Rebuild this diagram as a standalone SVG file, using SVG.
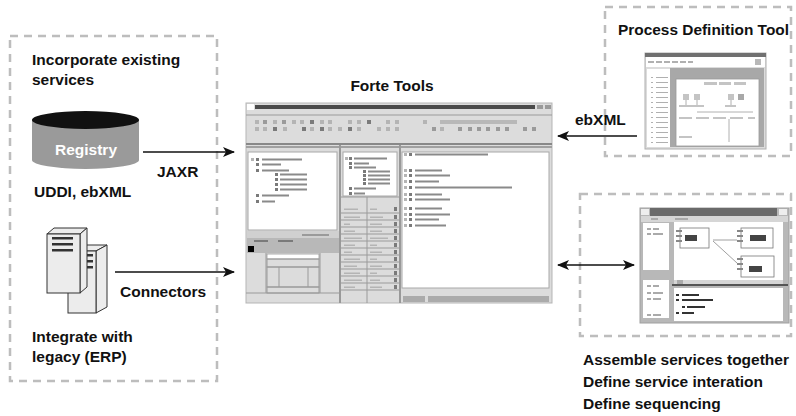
<svg xmlns="http://www.w3.org/2000/svg" width="796" height="416" viewBox="0 0 796 416">
  <defs>
    <marker id="arrow" viewBox="0 0 12 10" refX="11" refY="5" markerWidth="12" markerHeight="10" markerUnits="userSpaceOnUse" orient="auto-start-reverse">
      <path d="M0,0 L12,5 L0,10 L3,5 z" fill="#111"/>
    </marker>
    <style>
      .lbl { font-family: "Liberation Sans", Arial, sans-serif; font-weight: bold; font-size: 15.5px; fill: #111; }
      .dash { fill: none; stroke: #bdbdbd; stroke-width: 2.5; stroke-dasharray: 8 6; }
      .conn { fill: none; stroke: #111; stroke-width: 1.5; }
      .win { fill: #dcdcdc; stroke: #b5b5b5; stroke-width: 1; }
      .pane { fill: #fff; stroke: #a8a8a8; stroke-width: 1; }
      .gl { fill: none; stroke: #9a9a9a; stroke-width: 1; }
      .bar { fill: #8a8a8a; }
      .lt { fill: #b4b4b4; }
      .md { fill: #9a9a9a; }
      .dk { fill: #7a7a7a; }
      .blk { fill: #333; }
      .box { fill: #ececec; stroke: #333; stroke-width: 1; }
    </style>
  </defs>

  <!-- grouping frames -->
  <g id="frames">
    <rect class="dash" x="10" y="36" width="207" height="345"/>
    <rect class="dash" x="605" y="7" width="186" height="149"/>
    <rect class="dash" x="580" y="194" width="211" height="142"/>
  </g>

  <!-- left: existing services -->
  <g id="incorporate">
    <text class="lbl" x="32" y="65">Incorporate existing</text>
    <text class="lbl" x="32" y="85">services</text>
  </g>

  <g id="registry">
    <path d="M32,120 L32,160 A53.5,9 0 0 0 139,160 L139,120 Z" fill="#9a9a9a"/>
    <ellipse cx="85.5" cy="120" rx="53.5" ry="9" fill="#111"/>
    <text x="86" y="155" text-anchor="middle" style="font-family:'Liberation Sans',Arial,sans-serif;font-weight:bold;font-size:15.5px;fill:#fff">Registry</text>
    <text class="lbl" x="34" y="197">UDDI, ebXML</text>
  </g>

  <g id="legacy">
    <!-- rear tower -->
    <polygon class="box" points="68,251 79,245 107,245 96,251"/>
    <polygon class="box" points="96,251 107,245 107,307 96,313"/>
    <rect class="box" x="68" y="251" width="28" height="62"/>
    <rect class="blk" x="75" y="254" width="18" height="2.5"/>
    <rect class="blk" x="75" y="260" width="18" height="2.5"/>
    <rect class="blk" x="75" y="266" width="18" height="2.5"/>
    <!-- front tower -->
    <polygon class="box" points="47,234 54,228 87,228 80,234"/>
    <polygon class="box" points="80,234 87,228 87,287 80,293"/>
    <rect class="box" x="47" y="234" width="33" height="59"/>
    <rect class="blk" x="52" y="237" width="21" height="2.5"/>
    <rect class="blk" x="52" y="243" width="21" height="2.5"/>
    <rect class="blk" x="52" y="249" width="21" height="2.5"/>
    <text class="lbl" x="32" y="342">Integrate with</text>
    <text class="lbl" x="32" y="362">legacy (ERP)</text>
  </g>

  <!-- centre: Forte Tools IDE -->
  <g id="forte-tools">
    <text class="lbl" x="392" y="91" text-anchor="middle">Forte Tools</text>
    <rect class="win" x="246" y="103" width="306" height="200"/>
    <!-- title bar -->
    <rect x="247" y="104" width="7" height="6" fill="#fff"/>
    <rect x="255" y="105" width="280" height="4" fill="#4a4a4a"/>
    <rect class="md" x="537" y="105" width="6" height="4"/>
    <rect class="md" x="545" y="105" width="6" height="4"/>
    <line class="gl" x1="246" y1="115" x2="552" y2="115"/>
    <!-- toolbar row 1 -->
    <g>
      <rect class="lt" x="255" y="120" width="4" height="4"/>
      <rect class="md" x="263" y="120" width="4" height="4"/>
      <rect class="lt" x="273" y="120" width="4" height="4"/>
      <rect class="md" x="282" y="120" width="4" height="4"/>
      <rect class="lt" x="292" y="120" width="4" height="4"/>
      <rect class="lt" x="300" y="120" width="4" height="4"/>
      <rect class="dk" x="310" y="120" width="4" height="4"/>
      <rect class="lt" x="320" y="120" width="4" height="4"/>
      <rect class="lt" x="328" y="120" width="4" height="4"/>
      <rect class="lt" x="348" y="120" width="4" height="4"/>
      <rect class="lt" x="357" y="120" width="4" height="4"/>
      <rect class="dk" x="367" y="120" width="4" height="4"/>
      <rect class="lt" x="386" y="120" width="4" height="4"/>
      <rect class="lt" x="395" y="120" width="4" height="4"/>
      <rect class="lt" x="423" y="120" width="4" height="4"/>
      <rect x="440" y="120" width="77" height="4" fill="#b8b8b8"/>
    </g>
    <!-- toolbar row 2 -->
    <g>
      <rect class="lt" x="255" y="127" width="4" height="4"/>
      <rect class="lt" x="263" y="127" width="4" height="4"/>
      <rect class="dk" x="273" y="127" width="4" height="4"/>
      <rect class="lt" x="283" y="127" width="4" height="4"/>
      <rect class="dk" x="302" y="127" width="4" height="4"/>
      <rect class="lt" x="310" y="127" width="4" height="4"/>
      <rect class="dk" x="320" y="127" width="4" height="4"/>
      <rect class="lt" x="328" y="127" width="4" height="4"/>
      <rect class="lt" x="338" y="127" width="4" height="4"/>
      <rect class="dk" x="348" y="127" width="4" height="4"/>
      <rect class="lt" x="357" y="127" width="4" height="4"/>
      <rect class="lt" x="377" y="127" width="4" height="4"/>
      <rect class="lt" x="386" y="127" width="4" height="4"/>
      <rect class="lt" x="395" y="127" width="4" height="4"/>
      <rect class="md" x="432" y="127" width="4" height="4"/>
      <rect class="lt" x="440" y="127" width="4" height="4"/>
      <rect class="md" x="458" y="127" width="4" height="4"/>
      <rect class="md" x="468" y="127" width="4" height="4"/>
      <rect class="md" x="477" y="127" width="4" height="4"/>
      <rect class="md" x="486" y="127" width="4" height="4"/>
      <rect class="md" x="496" y="127" width="4" height="4"/>
      <rect class="md" x="505" y="127" width="4" height="4"/>
      <rect class="md" x="523" y="127" width="4" height="4"/>
      <rect class="md" x="532" y="127" width="4" height="4"/>
    </g>
    <!-- pane splitters -->
    <rect x="246" y="143" width="306" height="2" fill="#888"/>
    <rect x="246" y="146" width="306" height="2" fill="#a0a0a0"/>
    <rect x="339" y="145" width="2" height="158" fill="#999"/>
    <rect x="399" y="145" width="2" height="158" fill="#999"/>

    <!-- left pane: tree -->
    <rect class="pane" x="248" y="152" width="89" height="78"/>
    <g>
      <rect class="lt" x="251" y="158" width="3" height="3"/><rect class="dk" x="256" y="158" width="3" height="3"/><rect class="bar" x="262" y="158.5" width="40" height="2"/>
      <rect class="dk" x="256" y="163" width="3" height="3"/><rect class="bar" x="262" y="163.5" width="19" height="2"/>
      <rect class="dk" x="256" y="169" width="3" height="3"/><rect class="bar" x="262" y="169.5" width="27" height="2"/>
      <rect class="dk" x="275" y="173" width="3" height="3"/><rect class="bar" x="280" y="173.5" width="27" height="2"/>
      <rect class="dk" x="275" y="178" width="3" height="3"/><rect class="bar" x="280" y="178.5" width="27" height="2"/>
      <rect class="dk" x="275" y="183" width="3" height="3"/><rect class="bar" x="280" y="183.5" width="27" height="2"/>
      <rect class="dk" x="275" y="188" width="3" height="3"/><rect class="bar" x="280" y="188.5" width="27" height="2"/>
      <rect class="dk" x="256" y="194" width="3" height="3"/><rect class="bar" x="262" y="194.5" width="27" height="2"/>
      <rect class="dk" x="256" y="200" width="3" height="3"/><rect class="bar" x="262" y="200.5" width="13" height="2"/>
    </g>
    <rect x="247" y="231" width="92" height="7" fill="#d0d0d0"/>
    <rect class="md" x="302" y="234" width="27" height="2"/>
    <rect x="247" y="238" width="92" height="15" fill="#b8b8b8"/>
    <rect class="dk" x="254" y="240" width="14" height="2"/>
    <rect class="dk" x="278" y="240" width="15" height="2"/>
    <rect x="248" y="246" width="6" height="6" fill="#000"/>
    <!-- left pane: property form -->
    <line class="gl" x1="266" y1="253" x2="266" y2="293"/>
    <line class="gl" x1="320" y1="253" x2="320" y2="293"/>
    <line class="gl" x1="246" y1="293" x2="339" y2="293"/>
    <rect x="267" y="254" width="52" height="5" fill="#fff" stroke="#9a9a9a" stroke-width="0.8"/>
    <rect class="gl" x="267" y="259" width="52" height="8"/>
    <rect class="gl" x="267" y="267" width="52" height="20"/>
    <line class="gl" x1="279" y1="267" x2="279" y2="287"/>
    <line class="gl" x1="308" y1="267" x2="308" y2="287"/>
    <rect class="gl" x="267" y="287" width="52" height="6"/>

    <!-- middle pane: tree -->
    <rect class="pane" x="343" y="152" width="54" height="44"/>
    <g>
      <rect class="lt" x="345" y="157" width="3" height="3"/><rect class="dk" x="349" y="157" width="3" height="3"/><rect class="bar" x="354" y="157.5" width="33" height="2"/>
      <rect class="dk" x="349" y="162" width="3" height="3"/><rect class="bar" x="354" y="162.5" width="15" height="2"/>
      <rect class="dk" x="349" y="166" width="3" height="3"/><rect class="bar" x="354" y="166.5" width="22" height="2"/>
      <rect class="dk" x="363" y="170" width="3" height="3"/><rect class="bar" x="368" y="170.5" width="22" height="2"/>
      <rect class="dk" x="363" y="174" width="3" height="3"/><rect class="bar" x="368" y="174.5" width="22" height="2"/>
      <rect class="dk" x="363" y="178" width="3" height="3"/><rect class="bar" x="368" y="178.5" width="22" height="2"/>
      <rect class="dk" x="363" y="182" width="3" height="3"/><rect class="bar" x="368" y="182.5" width="22" height="2"/>
      <rect class="dk" x="349" y="187" width="3" height="3"/><rect class="bar" x="354" y="187.5" width="22" height="2"/>
      <rect class="dk" x="349" y="192" width="3" height="3"/><rect class="bar" x="354" y="192.5" width="11" height="2"/>
    </g>
    <!-- middle pane: property table -->
    <line class="gl" x1="341" y1="197" x2="399" y2="197"/>
    <line class="gl" x1="367" y1="197" x2="367" y2="303"/>
    <g stroke="#9a9a9a" stroke-width="1">
      <line x1="341" y1="213" x2="399" y2="213"/>
      <line x1="341" y1="220" x2="399" y2="220"/>
      <line x1="341" y1="227" x2="399" y2="227"/>
      <line x1="341" y1="234" x2="399" y2="234"/>
      <line x1="341" y1="241" x2="399" y2="241"/>
      <line x1="341" y1="248" x2="399" y2="248"/>
      <line x1="341" y1="255" x2="399" y2="255"/>
      <line x1="341" y1="262" x2="399" y2="262"/>
      <line x1="341" y1="269" x2="399" y2="269"/>
      <line x1="341" y1="276" x2="399" y2="276"/>
      <line x1="341" y1="283" x2="399" y2="283"/>
      <line x1="341" y1="290" x2="399" y2="290"/>
    </g>
    <g>
      <rect class="lt" x="344" y="208.5" width="14" height="1.5"/><rect class="lt" x="370" y="208.5" width="7" height="1.5"/><rect class="dk" x="394" y="207" width="3" height="4"/>
      <rect class="lt" x="344" y="216.5" width="16" height="1.5"/><rect class="lt" x="370" y="216.5" width="13" height="1.5"/><rect class="dk" x="394" y="215" width="3" height="4"/>
      <rect class="lt" x="344" y="223.5" width="6" height="1.5"/><rect class="lt" x="370" y="223.5" width="12" height="1.5"/><rect class="dk" x="394" y="222" width="3" height="4"/>
      <rect class="lt" x="344" y="230.5" width="11" height="1.5"/><rect class="lt" x="370" y="230.5" width="12" height="1.5"/><rect class="dk" x="394" y="229" width="3" height="4"/>
      <rect class="lt" x="344" y="237.5" width="18" height="1.5"/><rect class="lt" x="370" y="237.5" width="18" height="1.5"/><rect class="dk" x="394" y="236" width="3" height="4"/>
      <rect class="lt" x="344" y="244.5" width="11" height="1.5"/><rect class="lt" x="370" y="244.5" width="7" height="1.5"/><rect class="dk" x="394" y="243" width="3" height="4"/>
      <rect class="lt" x="344" y="251.5" width="8" height="1.5"/><rect class="lt" x="370" y="251.5" width="12" height="1.5"/><rect class="dk" x="394" y="250" width="3" height="4"/>
      <rect class="lt" x="344" y="258.5" width="16" height="1.5"/><rect class="lt" x="370" y="258.5" width="7" height="1.5"/><rect class="dk" x="394" y="257" width="3" height="4"/>
      <rect class="lt" x="344" y="265.5" width="13" height="1.5"/><rect class="lt" x="370" y="265.5" width="12" height="1.5"/><rect class="dk" x="394" y="264" width="3" height="4"/>
      <rect class="lt" x="344" y="272.5" width="16" height="1.5"/><rect class="lt" x="370" y="272.5" width="7" height="1.5"/><rect class="dk" x="394" y="271" width="3" height="4"/>
      <rect class="lt" x="344" y="279.5" width="18" height="1.5"/><rect class="lt" x="370" y="279.5" width="10" height="1.5"/><rect class="dk" x="394" y="278" width="3" height="4"/>
      <rect class="lt" x="344" y="286.5" width="11" height="1.5"/><rect class="lt" x="370" y="286.5" width="12" height="1.5"/><rect class="dk" x="394" y="285" width="3" height="4"/>
    </g>

    <!-- right pane: editor -->
    <rect class="pane" x="402" y="152" width="147" height="136"/>
    <g>
      <rect class="lt" x="404" y="153" width="3" height="3"/><rect class="dk" x="409" y="153" width="3" height="3"/><rect class="bar" x="415" y="153.5" width="73" height="2"/>
      <rect class="lt" x="404" y="169" width="3" height="3"/><rect class="dk" x="409" y="169" width="3" height="3"/><rect class="bar" x="415" y="169.5" width="27" height="2"/>
      <rect class="lt" x="404" y="174" width="3" height="3"/><rect class="dk" x="409" y="174" width="3" height="3"/><rect class="bar" x="415" y="174.5" width="35" height="2"/>
      <rect class="lt" x="404" y="180" width="3" height="3"/><rect class="dk" x="409" y="180" width="3" height="3"/><rect class="bar" x="415" y="180.5" width="24" height="2"/>
      <rect class="lt" x="404" y="186" width="3" height="3"/><rect class="dk" x="409" y="186" width="3" height="3"/><rect class="bar" x="415" y="186.5" width="97" height="2"/>
      <rect class="lt" x="404" y="193" width="3" height="3"/><rect class="dk" x="409" y="193" width="3" height="3"/><rect class="bar" x="415" y="193.5" width="27" height="2"/>
      <rect class="lt" x="404" y="198" width="3" height="3"/><rect class="dk" x="409" y="198" width="3" height="3"/><rect class="bar" x="415" y="198.5" width="35" height="2"/>
      <rect class="lt" x="404" y="207" width="3" height="3"/><rect class="dk" x="409" y="207" width="3" height="3"/><rect class="bar" x="415" y="207.5" width="27" height="2"/>
      <rect class="lt" x="404" y="213" width="3" height="3"/><rect class="dk" x="409" y="213" width="3" height="3"/><rect class="bar" x="415" y="213.5" width="35" height="2"/>
      <rect class="lt" x="404" y="218" width="3" height="3"/><rect class="dk" x="409" y="218" width="3" height="3"/><rect class="bar" x="415" y="218.5" width="24" height="2"/>
      <rect class="lt" x="404" y="224" width="3" height="3"/><rect class="dk" x="409" y="224" width="3" height="3"/><rect class="bar" x="415" y="224.5" width="31" height="2"/>
    </g>
    <rect x="403" y="296" width="22" height="6" fill="#ababab"/>
    <rect x="428" y="296" width="121" height="6" fill="#ababab"/>
  </g>

  <!-- top right: process definition tool -->
  <g id="process-definition-tool">
    <text class="lbl" x="618" y="35" textLength="171" lengthAdjust="spacingAndGlyphs">Process Definition Tool</text>
    <rect x="645" y="53" width="121" height="96" fill="#dcdcdc" stroke="#b0b0b0" stroke-width="1"/>
    <rect x="645" y="53" width="121" height="4" fill="#707070"/>
    <rect x="646" y="57" width="119" height="10" fill="#fff"/>
    <g fill="#b0b0b0">
      <rect x="648" y="61" width="6" height="2"/><rect x="656" y="61" width="6" height="2"/><rect x="664" y="61" width="6" height="2"/>
      <rect x="672" y="61" width="6" height="2"/><rect x="680" y="61" width="6" height="2"/><rect x="688" y="61" width="5" height="2"/>
    </g>
    <rect x="755" y="59" width="6" height="6" fill="#b8b8b8"/>
    <rect x="647" y="69" width="23" height="78" fill="#fff"/>
    <g fill="#b0b0b0">
      <rect x="651" y="77" width="2" height="1"/><rect x="656" y="77" width="12" height="1"/>
      <rect x="651" y="82" width="2" height="1"/><rect x="656" y="82" width="12" height="1"/>
      <rect x="651" y="87" width="2" height="1"/><rect x="656" y="87" width="12" height="1"/>
      <rect x="651" y="92" width="2" height="1"/><rect x="656" y="92" width="12" height="1"/>
      <rect x="651" y="97" width="2" height="1"/><rect x="656" y="97" width="12" height="1"/>
      <rect x="651" y="102" width="2" height="1"/><rect x="656" y="102" width="12" height="1"/>
      <rect x="651" y="107" width="2" height="1"/><rect x="656" y="107" width="12" height="1"/>
      <rect x="651" y="112" width="2" height="1"/><rect x="656" y="112" width="12" height="1"/>
      <rect x="651" y="117" width="2" height="1"/><rect x="656" y="117" width="12" height="1"/>
      <rect x="651" y="122" width="2" height="1"/><rect x="656" y="122" width="12" height="1"/>
      <rect x="651" y="127" width="2" height="1"/><rect x="656" y="127" width="12" height="1"/>
      <rect x="651" y="132" width="2" height="1"/><rect x="656" y="132" width="12" height="1"/>
      <rect x="651" y="137" width="2" height="1"/><rect x="656" y="137" width="12" height="1"/>
      <rect x="651" y="142" width="2" height="1"/><rect x="656" y="142" width="12" height="1"/>
    </g>
    <rect x="670" y="68" width="94" height="79" fill="#a8a8a8"/>
    <rect x="676" y="79" width="83" height="67" fill="#fff" stroke="#999" stroke-width="0.8"/>
    <g fill="#c4c4c4">
      <rect x="704" y="82" width="13" height="3"/><rect x="719" y="82" width="12" height="3"/><rect x="734" y="82" width="12" height="3"/>
      <rect x="683" y="94" width="6" height="6"/><rect x="694" y="94" width="6" height="6"/>
      <rect x="728" y="94" width="6" height="6"/>
      <rect x="679" y="105" width="25" height="2"/><rect x="725" y="105" width="11" height="2"/>
      <rect x="679" y="117" width="13" height="2"/><rect x="696" y="117" width="13" height="2"/><rect x="713" y="117" width="13" height="2"/>
      <rect x="730" y="117" width="13" height="2"/><rect x="748" y="117" width="7" height="2"/>
      <rect x="679" y="136" width="13" height="2"/>
    </g>
    <rect x="738" y="94" width="6" height="6" fill="#a8a8a8"/>
    <g stroke="#b0b0b0" stroke-width="1" fill="none">
      <line x1="686" y1="100" x2="686" y2="105"/><line x1="697" y1="100" x2="697" y2="105"/>
      <line x1="731" y1="100" x2="731" y2="105"/>
      <line x1="697" y1="112" x2="753" y2="112"/>
      <line x1="729" y1="119" x2="729" y2="142"/>
    </g>
  </g>

  <!-- bottom right: service assembly -->
  <g id="service-assembly">
    <rect x="640" y="208" width="149" height="115" fill="#b8b8b8" stroke="#a0a0a0" stroke-width="1"/>
    <rect x="650" y="208" width="127" height="8" fill="#6a6a6a"/>
    <rect x="641" y="209" width="8" height="6" fill="#eee"/>
    <rect x="779" y="209" width="8" height="6" fill="#eee"/>
    <rect x="641" y="216" width="147" height="6" fill="#d6d6d6"/>
    <rect x="651" y="218" width="7" height="2" fill="#aaa"/>
    <rect x="675" y="218" width="13" height="2" fill="#aaa"/>
    <rect x="643" y="223" width="26" height="47" fill="#fff"/>
    <rect x="643" y="280" width="26" height="38" fill="#fff"/>
    <g fill="#aaa">
      <rect x="647" y="228" width="4" height="2"/><rect x="653" y="228" width="6" height="2"/>
      <rect x="647" y="233" width="4" height="2"/><rect x="653" y="233" width="10" height="2"/>
      <rect x="647" y="285" width="4" height="2"/><rect x="653" y="285" width="6" height="2"/>
      <rect x="647" y="292" width="4" height="2"/><rect x="653" y="292" width="10" height="2"/>
      <rect x="647" y="298" width="4" height="2"/><rect x="653" y="298" width="8" height="2"/>
      <rect x="647" y="314" width="4" height="2"/><rect x="653" y="314" width="8" height="2"/>
    </g>
    <rect x="674" y="222" width="109" height="58" fill="#fff"/>
    <rect x="674" y="280" width="109" height="4" fill="#d6d6d6"/>
    <rect x="677" y="280" width="6" height="4" fill="#aaa"/>
    <rect x="672" y="284" width="116" height="2" fill="#555"/>
    <rect x="674" y="288" width="109" height="33" fill="#fff"/>
    <g fill="#333">
      <rect x="676" y="294" width="3" height="2"/><rect x="682" y="294" width="17" height="2"/>
      <rect x="676" y="299" width="3" height="2"/><rect x="682" y="299" width="31" height="2"/>
      <rect x="682" y="306" width="3" height="2"/><rect x="687" y="306" width="18" height="2"/>
      <rect x="676" y="312" width="3" height="2"/><rect x="682" y="312" width="12" height="2"/>
    </g>
    <!-- components and wiring -->
    <g fill="#fff" stroke="#777" stroke-width="0.8">
      <rect x="680" y="228" width="29" height="20"/>
      <rect x="741" y="228" width="32" height="20"/>
      <rect x="741" y="256" width="33" height="21"/>
    </g>
    <g fill="#888">
      <rect x="676" y="230" width="6" height="2"/><rect x="676" y="235" width="6" height="2"/><rect x="676" y="240" width="6" height="2"/>
      <rect x="737" y="230" width="6" height="2"/><rect x="737" y="235" width="6" height="2"/><rect x="737" y="240" width="6" height="2"/>
      <rect x="737" y="258" width="6" height="2"/><rect x="737" y="263" width="6" height="2"/><rect x="737" y="268" width="6" height="2"/>
    </g>
    <g fill="#444">
      <rect x="685" y="235" width="12" height="6"/>
      <rect x="750" y="235" width="16" height="6"/>
      <rect x="749" y="266" width="13" height="6"/>
    </g>
    <g stroke="#888" stroke-width="0.8" fill="none">
      <line x1="713" y1="240" x2="737" y2="240"/>
      <line x1="713" y1="241" x2="737" y2="263"/>
    </g>
    <text class="lbl" x="583" y="365" textLength="206" lengthAdjust="spacingAndGlyphs">Assemble services together</text>
    <text class="lbl" x="583" y="387">Define service interation</text>
    <text class="lbl" x="583" y="409">Define sequencing</text>
  </g>

  <!-- connectors -->
  <g id="connectors">
    <line class="conn" x1="143" y1="152" x2="234" y2="152" marker-end="url(#arrow)"/>
    <text class="lbl" x="157" y="177">JAXR</text>
    <line class="conn" x1="115" y1="272" x2="234" y2="272" marker-end="url(#arrow)"/>
    <text class="lbl" x="120" y="297">Connectors</text>
    <line class="conn" x1="637" y1="136" x2="558" y2="136" marker-end="url(#arrow)"/>
    <text class="lbl" x="575" y="125">ebXML</text>
    <line class="conn" x1="558" y1="265" x2="634" y2="265" marker-start="url(#arrow)" marker-end="url(#arrow)"/>
  </g>
</svg>
